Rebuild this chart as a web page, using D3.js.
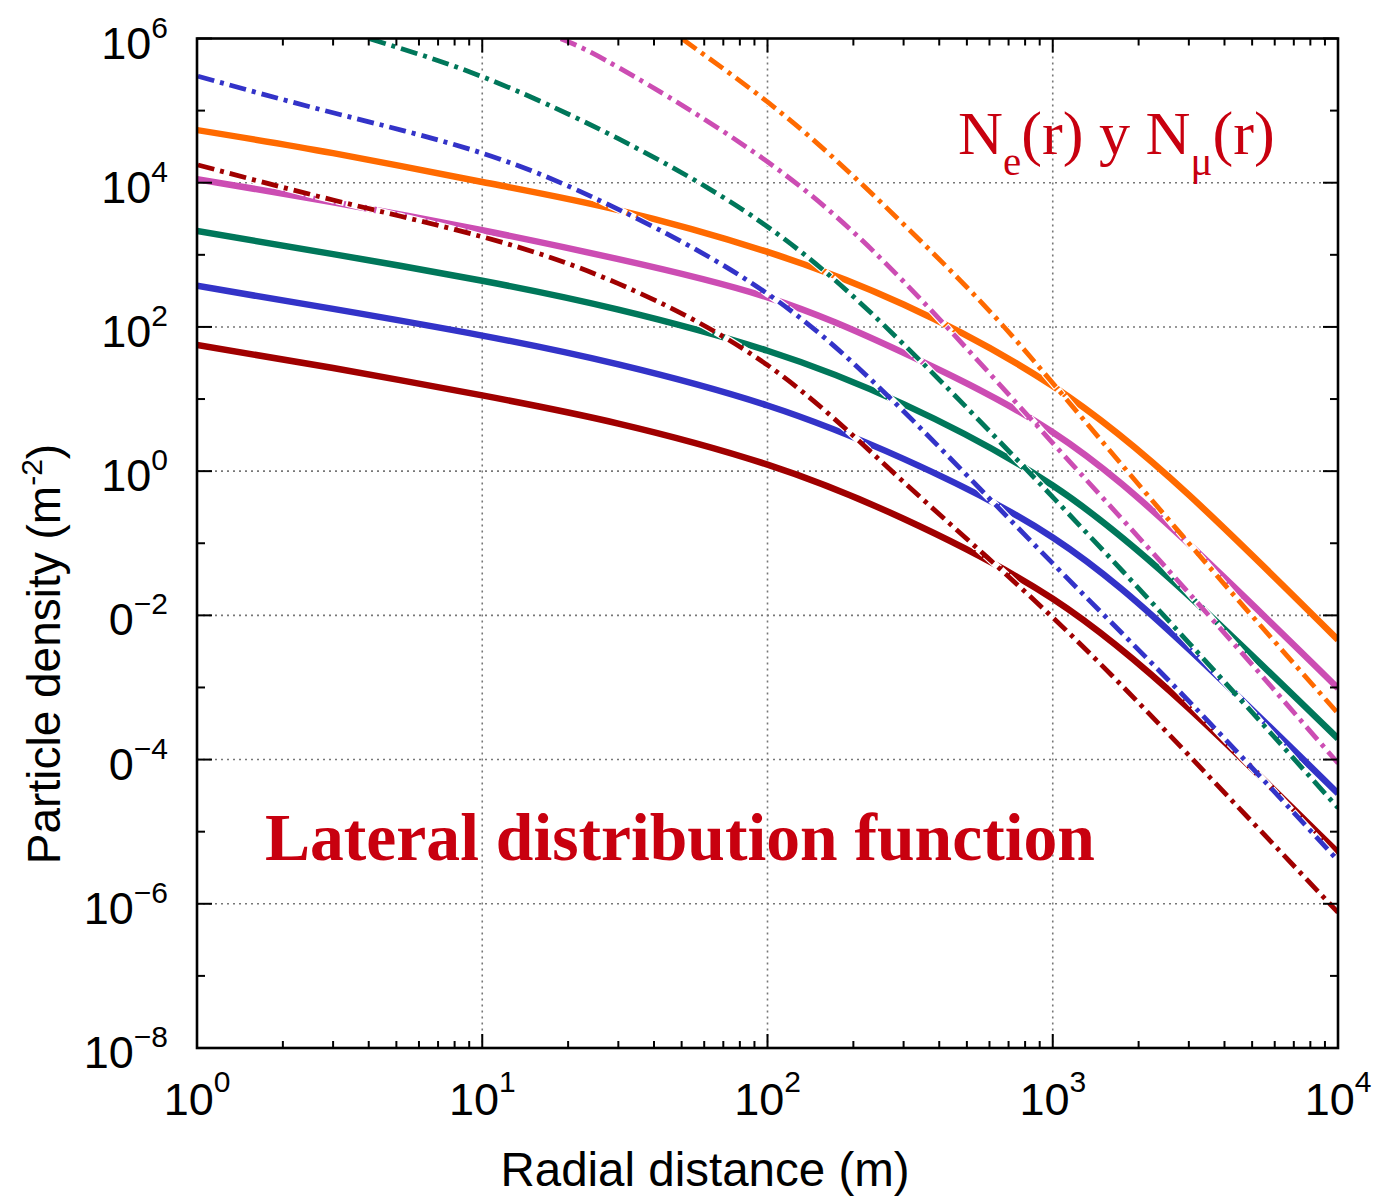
<!DOCTYPE html>
<html>
<head>
<meta charset="utf-8">
<script src="https://cdn.jsdelivr.net/npm/d3@7"></script>
<style>
  html, body { margin: 0; padding: 0; background: #fff; }
  svg { display: block; }
</style>
</head>
<body>
<svg id="chart" width="1376" height="1197"></svg>
<script>
// ---------------- DATA (log10 of particle density) ----------------
const radii = [1, 3, 10, 30, 100, 300, 1000, 3000, 10000];

// solid curves
const solidOrange  = [4.73, 4.41, 4.01, 3.62, 3.04, 2.31, 1.18, -0.33, -2.34];
const solidMagenta = [4.05, 3.73, 3.34, 2.94, 2.41, 1.64, 0.54, -1.01, -3.01];
const solidGreen   = [3.33, 3.01, 2.64, 2.24, 1.67, 0.93, -0.20, -1.73, -3.71];
const solidBlue    = [2.57, 2.25, 1.88, 1.48, 0.91, 0.17, -0.92, -2.47, -4.47];
const solidDarkRed = [1.75, 1.43, 1.05, 0.66, 0.09, -0.66, -1.77, -3.29, -5.29];

// dash-dot curves (each has its own radii, they enter from the top of the frame)
const ddBlueR    = [1, 3, 10, 30, 100, 300, 1000, 3000, 10000];
const ddBlue     = [5.48, 4.97, 4.41, 3.63, 2.46, 0.83, -1.28, -3.19, -5.40];
const ddGreenR   = [4, 10, 30, 100, 300, 1000, 3000, 10000];
const ddGreen    = [6.0, 5.47, 4.61, 3.39, 1.76, -0.36, -2.38, -4.67];
const ddMagentaR = [18.7, 30, 100, 300, 1000, 3000, 10000];
const ddMagenta  = [6.0, 5.60, 4.29, 2.63, 0.39, -1.69, -4.05];
const ddOrangeR  = [50, 100, 200, 500, 1000, 3000, 10000];
const ddOrange   = [6.0, 5.12, 4.09, 2.55, 1.22, -1.0, -3.36];
const ddDarkRedR = [1, 3, 10, 30, 100, 300, 1000, 3000, 10000];
const ddDarkRed  = [4.25, 3.76, 3.25, 2.60, 1.47, -0.15, -2.03, -3.94, -6.12];

// axis ticks
const xTickValues = [1, 10, 100, 1000, 10000];
const xTickExp    = ["0", "1", "2", "3", "4"];
const yTickValues = [1e6, 1e4, 1e2, 1e0, 1e-2, 1e-4, 1e-6, 1e-8];
const yTickBase   = ["10", "10", "10", "10", "0", "0", "10", "10"];
const yTickExp    = ["6", "4", "2", "0", "\u22122", "\u22124", "\u22126", "\u22128"];

const colors = {
  orange: "#ff6a00", magenta: "#cc4db3", green: "#00775a", blue: "#3333c8", darkred: "#a00000"
};

// ---------------- LAYOUT ----------------
const L = 197, R = 1338, T = 38.5, B = 1048;
const svg = d3.select("#chart");
const x = d3.scaleLog().domain([1, 1e4]).range([L, R]);
const y = d3.scaleLog().domain([1e-8, 1e6]).range([B, T]);

svg.append("defs").append("clipPath").attr("id", "plotclip")
  .append("rect").attr("x", L).attr("y", T).attr("width", R - L).attr("height", B - T);

// grid (dotted)
const grid = svg.append("g");
[10, 100, 1000].forEach(v => {
  grid.append("line").attr("x1", x(v)).attr("x2", x(v)).attr("y1", T).attr("y2", B)
    .attr("stroke", "#777").attr("stroke-width", 1.6).attr("stroke-dasharray", "2,4");
});
[1e4, 1e2, 1, 1e-2, 1e-4, 1e-6].forEach(v => {
  grid.append("line").attr("x1", L).attr("x2", R).attr("y1", y(v)).attr("y2", y(v))
    .attr("stroke", "#777").attr("stroke-width", 1.6).attr("stroke-dasharray", "2,4");
});

// curves
const plot = svg.append("g").attr("clip-path", "url(#plotclip)");
const line = d3.line().x(d => x(d[0])).y(d => y(Math.pow(10, d[1]))).curve(d3.curveNatural);

const solids = [
  [radii, solidDarkRed, colors.darkred],
  [radii, solidBlue, colors.blue],
  [radii, solidGreen, colors.green],
  [radii, solidMagenta, colors.magenta],
  [radii, solidOrange, colors.orange]
];
const dashed = [
  [ddDarkRedR, ddDarkRed, colors.darkred],
  [ddBlueR, ddBlue, colors.blue],
  [ddGreenR, ddGreen, colors.green],
  [ddMagentaR, ddMagenta, colors.magenta],
  [ddOrangeR, ddOrange, colors.orange]
];

solids.forEach(([rs, vs, c]) => {
  const pts = rs.map((r, i) => [r, vs[i]]);
  plot.append("path").attr("d", line(pts)).attr("fill", "none")
    .attr("stroke", c).attr("stroke-width", 6.5);
});
const dashPattern = "17,6,4,6";
dashed.forEach(([rs, vs, c]) => {
  const pts = rs.map((r, i) => [r, vs[i]]);
  plot.append("path").attr("d", line(pts)).attr("fill", "none")
    .attr("stroke", "#fff").attr("stroke-width", 7).attr("stroke-dasharray", "19,2,8,2")
    .attr("stroke-dashoffset", 1);
  plot.append("path").attr("d", line(pts)).attr("fill", "none")
    .attr("stroke", c).attr("stroke-width", 4.8).attr("stroke-dasharray", dashPattern)
    .attr("stroke-dashoffset", -1);
});

// ticks (inward) on all four sides
const ticks = svg.append("g").attr("stroke", "#000").attr("stroke-width", 2);
const xMinor = [];
for (let d = 1; d < 1e4; d *= 10) for (let k = 2; k <= 9; k++) xMinor.push(d * k);
xTickValues.forEach(v => {
  ticks.append("line").attr("x1", x(v)).attr("x2", x(v)).attr("y1", B).attr("y2", B - 14);
  ticks.append("line").attr("x1", x(v)).attr("x2", x(v)).attr("y1", T).attr("y2", T + 14);
});
xMinor.forEach(v => {
  ticks.append("line").attr("x1", x(v)).attr("x2", x(v)).attr("y1", B).attr("y2", B - 7);
  ticks.append("line").attr("x1", x(v)).attr("x2", x(v)).attr("y1", T).attr("y2", T + 7);
});
for (let e = -8; e <= 6; e++) {
  const len = (e % 2 === 0) ? 15 : 8;
  const yy = y(Math.pow(10, e));
  ticks.append("line").attr("x1", L).attr("x2", L + len).attr("y1", yy).attr("y2", yy);
  ticks.append("line").attr("x1", R).attr("x2", R - len).attr("y1", yy).attr("y2", yy);
}

// frame
svg.append("rect").attr("x", L).attr("y", T).attr("width", R - L).attr("height", B - T)
  .attr("fill", "none").attr("stroke", "#000").attr("stroke-width", 2.6);

// tick labels
const sansFont = "'Liberation Sans', Arial, Helvetica, sans-serif";
yTickValues.forEach((v, i) => {
  const t = svg.append("text").attr("x", 168).attr("y", y(v) + 20)
    .attr("text-anchor", "end").attr("font-family", sansFont).attr("fill", "#000");
  t.append("tspan").attr("font-size", 45).text(yTickBase[i]);
  t.append("tspan").attr("font-size", 30).attr("dy", -21).text(yTickExp[i]);
});
xTickValues.forEach((v, i) => {
  const t = svg.append("text").attr("x", x(v)).attr("y", 1115)
    .attr("text-anchor", "middle").attr("font-family", sansFont).attr("fill", "#000");
  t.append("tspan").attr("font-size", 45).text("10");
  t.append("tspan").attr("font-size", 30).attr("dy", -23).text(xTickExp[i]);
});

// axis titles
svg.append("text").attr("x", 705).attr("y", 1186).attr("text-anchor", "middle")
  .attr("font-family", sansFont).attr("font-size", 47.5).attr("fill", "#000")
  .text("Radial distance (m)");
const yt = svg.append("text").attr("transform", "translate(60,654) rotate(-90)")
  .attr("text-anchor", "middle").attr("font-family", sansFont).attr("fill", "#000")
  .attr("font-size", 46);
yt.append("tspan").text("Particle density (m");
yt.append("tspan").attr("font-size", 30).attr("dy", -18).text("-2");
yt.append("tspan").attr("dy", 18).text(")");

// annotations
const serif = "'Liberation Serif', 'DejaVu Serif', 'Times New Roman', serif";
const red = "#c8000f";
const ann = svg.append("text").attr("x", 958).attr("y", 154).attr("font-family", serif)
  .attr("fill", red).attr("font-size", 62);
ann.append("tspan").text("N");
ann.append("tspan").attr("font-size", 41).attr("dy", 21).text("e");
ann.append("tspan").attr("dy", -21).text("(r) y N");
ann.append("tspan").attr("font-size", 41).attr("dy", 21).text("\u03bc");
ann.append("tspan").attr("dy", -21).text("(r)");
const aw = ann.node().getComputedTextLength();
ann.attr("font-size", 62 * 317 / aw);

const title = svg.append("text").attr("x", 265).attr("y", 860).attr("font-family", serif)
  .attr("font-weight", "bold").attr("fill", red).attr("font-size", 66)
  .text("Lateral distribution function");
// fit width to the reference span
const tw = title.node().getComputedTextLength();
title.attr("font-size", 66 * 830 / tw);
</script>
</body>
</html>
